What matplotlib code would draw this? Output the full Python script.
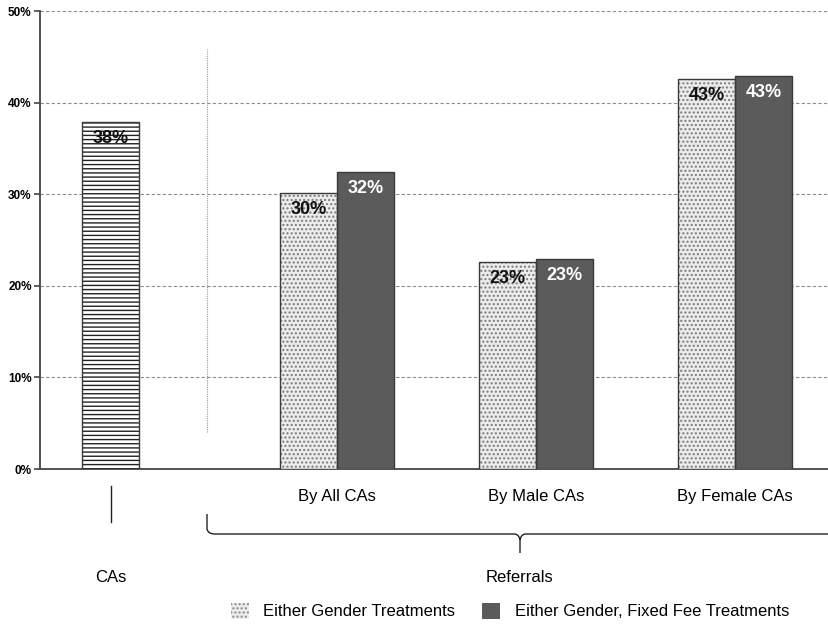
import matplotlib
matplotlib.use("Agg")
import matplotlib.pyplot as plt
from matplotlib.patches import Rectangle, PathPatch
from matplotlib.path import Path
from matplotlib.transforms import blended_transform_factory
import numpy as np

plt.rcParams['font.family'] = ['Liberation Sans', 'DejaVu Sans']

# --- data (share of referrals, %) ---
ca_label = "CAs"
ca_value = 37.9
groups = ["By All CAs", "By Male CAs", "By Female CAs"]
either_gender = [30.1, 22.6, 42.6]
fixed_fee = [32.4, 22.9, 42.9]
series_names = ["Either Gender Treatments", "Either Gender, Fixed Fee Treatments"]
yticks = [0, 10, 20, 30, 40, 50]
group_title = "Referrals"

W, H = 829, 626
fig = plt.figure(figsize=(W / 100, H / 100), dpi=100)
ax = fig.add_axes([40 / W, 1 - 469 / H, 1 - 40 / W, (469 - 11) / H])

bw = 1.0
ca_x = 1.237
group_x = np.array([5.21, 8.70, 12.19])
xmax = (W - 40) / 57.0

dark = "#5b5b5b"
edge = "#3a3a3a"

# CAs bar: horizontal line fill
ax.bar(ca_x, ca_value, width=bw, color="white", edgecolor="#222222",
       hatch="----", linewidth=0.0, zorder=3)
ax.bar(ca_x, ca_value, width=bw, fill=False, edgecolor=edge, linewidth=1.0, zorder=4)

# Referral bars
ax.bar(group_x - bw / 2, either_gender, width=bw, color="#ececec",
       edgecolor="#7a7a7a", hatch="....", linewidth=0.0, zorder=3)
ax.bar(group_x - bw / 2, either_gender, width=bw, fill=False, edgecolor=edge,
       linewidth=1.0, zorder=4)
ax.bar(group_x + bw / 2, fixed_fee, width=bw, color=dark,
       edgecolor=edge, linewidth=1.0, zorder=3)

# value labels
lab_kw = dict(ha="center", va="center", fontsize=13, fontweight="bold",
              textcoords="offset points", xytext=(0, -12), zorder=5)
ax.annotate(f"{ca_value:.0f}%", (ca_x, ca_value), color="#111111", **lab_kw)
for x, v in zip(group_x - bw / 2, either_gender):
    ax.annotate(f"{v:.0f}%", (x, v), color="#111111", **lab_kw)
for x, v in zip(group_x + bw / 2, fixed_fee):
    ax.annotate(f"{v:.0f}%", (x, v), color="white", **lab_kw)

# axes styling
ax.set_xlim(0, xmax)
ax.set_ylim(0, 50)
ax.set_yticks(yticks)
ax.set_yticklabels([f"{t}%" for t in yticks], fontsize=8.5, fontweight="bold")
ax.set_xticks([])
for t in yticks[1:]:
    ax.axhline(t, color="#8c8c8c", linestyle=(0, (3, 2)), linewidth=0.8, zorder=1)
for s in ["top", "right"]:
    ax.spines[s].set_visible(False)
for s in ["left", "bottom"]:
    ax.spines[s].set_color("#444444")
    ax.spines[s].set_linewidth(1.3)
ax.tick_params(axis="y", direction="out", length=4, width=1.2, color="#444444", pad=2)

# separator between CAs and referral groups
sep_x = (207 - 40) / 57.0
ax.plot([sep_x, sep_x], [4.0, 45.8], color="#9a9a9a", linestyle=(0, (1, 1)),
        linewidth=0.8, zorder=2)

# labels under the axis
bt = blended_transform_factory(ax.transData, fig.transFigure)
for x, name in zip(group_x, groups):
    fig.text(x, 1 - 497 / H, name, transform=bt, ha="center", va="center", fontsize=12)

# overlay in pixel coordinates for the bracket, tick and group titles
ov = fig.add_axes([0, 0, 1, 1], zorder=-1)
ov.set_xlim(0, W)
ov.set_ylim(H, 0)
ov.axis("off")

ca_px = 40 + ca_x * 57
ov.plot([ca_px, ca_px], [486, 522], color="#222222", linewidth=1.0)
ov.text(ca_px, 577, ca_label, ha="center", va="center", fontsize=12)

mid = 520
verts = [(207, 514), (207, 529), (208, 534), (215, 534),
         (mid - 6, 534), (mid - 1, 534), (mid, 540), (mid, 553),
         (mid, 540), (mid + 1, 534), (mid + 6, 534), (W + 5, 534)]
codes = [Path.MOVETO, Path.LINETO, Path.CURVE3, Path.CURVE3,
         Path.LINETO, Path.CURVE3, Path.CURVE3, Path.LINETO,
         Path.MOVETO, Path.CURVE3, Path.CURVE3, Path.LINETO]
ov.add_patch(PathPatch(Path(verts, codes), fill=False, edgecolor="#222222", linewidth=1.0))
ov.text(mid, 577, group_title, ha="center", va="center", fontsize=12)

# legend
h1 = Rectangle((0, 0), 1, 1, facecolor="#ececec", edgecolor="#8a8a8a", hatch="....", linewidth=0)
h2 = Rectangle((0, 0), 1, 1, facecolor=dark, edgecolor=dark, linewidth=0)
fig.legend([h1, h2], series_names, loc="center", bbox_to_anchor=(510 / W, 1 - 611 / H),
           ncol=2, frameon=False, fontsize=12, handlelength=1.1, handleheight=1.15,
           handletextpad=0.85, columnspacing=1.6)

fig.savefig("out.png", dpi=100)
